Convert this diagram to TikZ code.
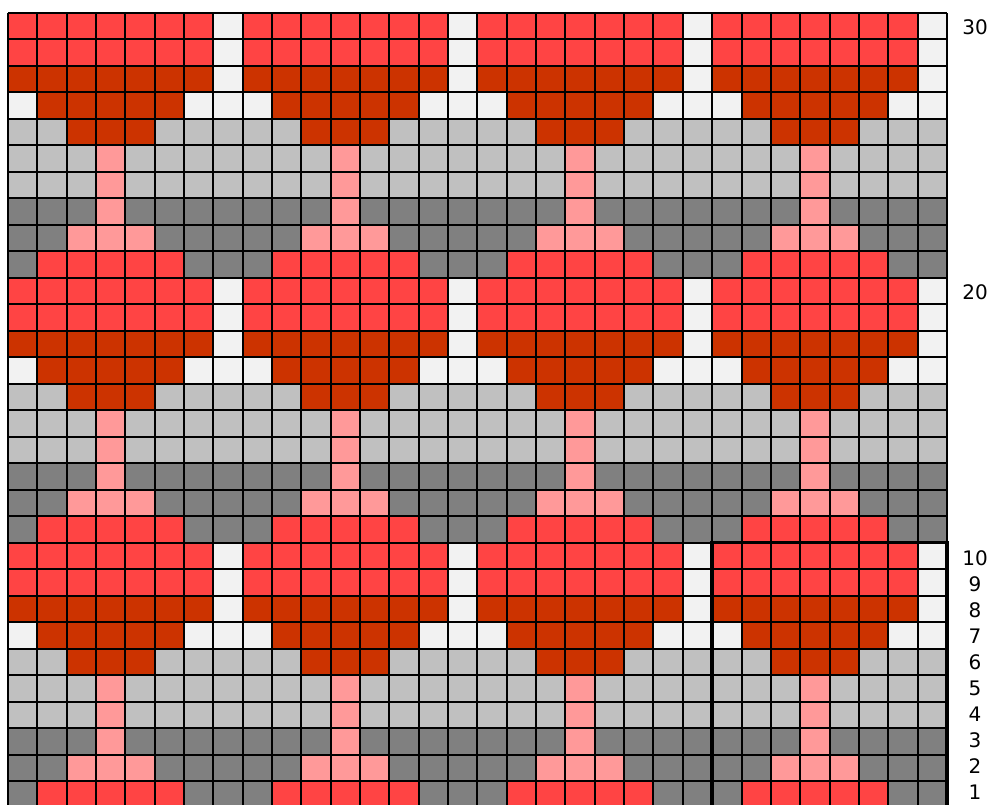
\documentclass[tikz,border=0pt]{standalone}
\usepackage{fontspec}
\setmainfont{DejaVu Sans}
\definecolor{cR}{HTML}{FF4444}
\definecolor{cD}{HTML}{CC3300}
\definecolor{cW}{HTML}{F2F2F2}
\definecolor{cL}{HTML}{C0C0C0}
\definecolor{cG}{HTML}{808080}
\definecolor{cP}{HTML}{FF9999}
\tikzset{
  gridline/.style={line width=2pt, black},
  repeatbox/.style={line width=3.5pt, black},
  rowlabel/.style={font=\fontsize{20}{24}\selectfont, anchor=center}
}
\begin{document}
\begin{tikzpicture}
\useasboundingbox (0,0) rectangle (993pt,804pt);
\begin{scope}[shift={(8pt,-3.7pt)}, x=29.34pt, y=26.5pt]
  \foreach \r/\row in {
    1/{G,R,R,R,R,R,G,G},
    2/{G,G,P,P,P,G,G,G},
    3/{G,G,G,P,G,G,G,G},
    4/{L,L,L,P,L,L,L,L},
    5/{L,L,L,P,L,L,L,L},
    6/{L,L,D,D,D,L,L,L},
    7/{W,D,D,D,D,D,W,W},
    8/{D,D,D,D,D,D,D,W},
    9/{R,R,R,R,R,R,R,W},
    10/{R,R,R,R,R,R,R,W}} {
    \foreach \c [count=\i from 0] in \row {
      \foreach \k in {0,1,2,3} {
        \foreach \b in {0,1,2} {
          \fill[c\c] ({\k*8+\i},{\b*10+\r-1}) rectangle ++(1,1);
        }
      }
    }
  }
  \foreach \x in {0,...,32} \draw[gridline] (\x,-0.2) -- (\x,30);
  \foreach \y in {0,...,30} \draw[gridline] (0,\y) -- (32,\y);
  \draw[repeatbox] (24,0) rectangle (32,10);
\end{scope}
\foreach \n in {1,...,10}
  \node[rowlabel] (lab\n) at (975pt,{(26*\n-14)*1pt}) {\n};
\node[rowlabel] (lab20) at (975pt,512pt) {20};
\node[rowlabel] (lab30) at (975pt,777pt) {30};
\end{tikzpicture}
\end{document}
